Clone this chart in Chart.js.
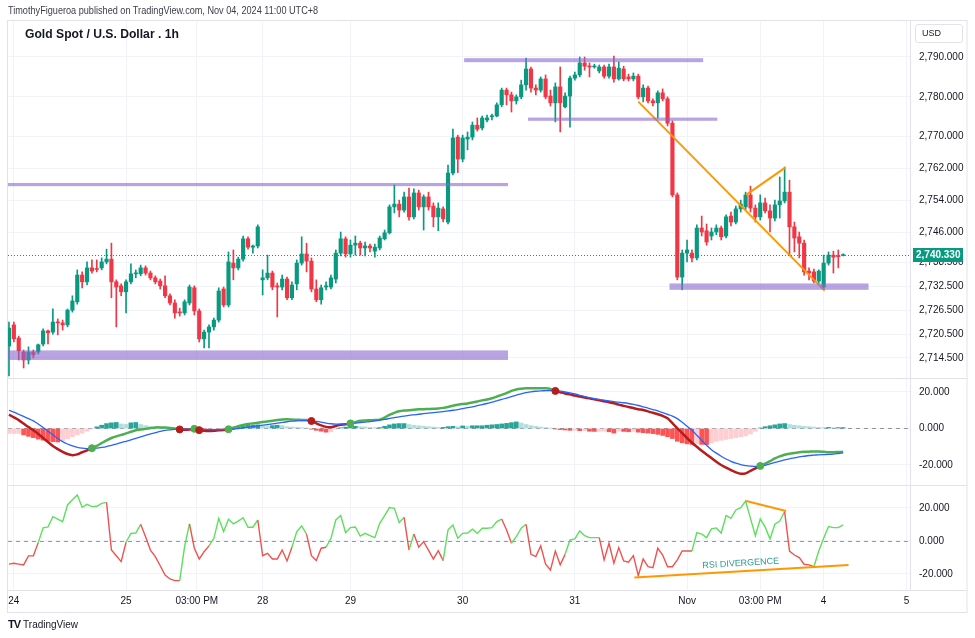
<!DOCTYPE html>
<html>
<head>
<meta charset="utf-8">
<script src="https://cdn.jsdelivr.net/npm/chart.js@4.4.1/dist/chart.umd.min.js"></script>
<style>
html, body { margin: 0; padding: 0; background: #fff; width: 975px; height: 638px; overflow: hidden; font-family: "Liberation Sans", Arial, sans-serif; }
#wrap { position: relative; width: 975px; height: 638px; }
#chart { position: absolute; left: 0; top: 0; }
#pub { position: absolute; left: 8px; top: 4px; font-size: 11px; color: #3a3e4a; white-space: nowrap; transform: scaleX(0.83); transform-origin: left top; }
#title { position: absolute; left: 25px; top: 26px; font-size: 13.5px; font-weight: bold; color: #131722; white-space: nowrap; transform: scaleX(0.9); transform-origin: left top; }
#usd { position: absolute; left: 915px; top: 24px; width: 48px; height: 19px; border: 1px solid #e0e3eb; border-radius: 3px; box-sizing: border-box; font-size: 9px; line-height: 17px; padding-left: 6px; color: #131722; }
#logo { position: absolute; left: 8px; top: 618px; font-size: 10px; color: #131722; white-space: nowrap; }
#logo b { font-weight: 900; letter-spacing: -1px; margin-right: 3px; font-size: 11px; }
</style>
</head>
<body>
<div id="wrap">
  <canvas id="chart" width="975" height="638"></canvas>
  <div id="pub">TimothyFigueroa published on TradingView.com, Nov 04, 2024 11:00 UTC+8</div>
  <div id="title">Gold Spot / U.S. Dollar . 1h</div>
  <div id="usd">USD</div>
  <div id="logo"><b>TV</b>TradingView</div>
</div>
<script>
// hourly candles, index 0 = first bar on the left
const opens = [
  2717.5, 2722.8, 2719.5, 2716.0, 2714.0, 2716.0, 2716.0, 2718.0, 2721.3, 2721.0,
  2723.5, 2723.3, 2722.8, 2726.5, 2728.6, 2735.3, 2733.6, 2737.1, 2736.9, 2737.1,
  2738.6, 2739.3, 2733.6, 2732.6, 2731.1, 2733.6, 2735.6, 2735.6, 2737.1, 2735.8,
  2734.6, 2733.8, 2732.6, 2730.1, 2728.3, 2726.0, 2725.8, 2728.3, 2732.1, 2726.3,
  2719.3, 2721.0, 2722.3, 2724.0, 2731.8, 2727.8, 2738.3, 2737.1, 2739.3, 2744.4,
  2742.3, 2742.6, 2734.1, 2734.6, 2735.8, 2732.6, 2732.3, 2734.3, 2729.6, 2733.1,
  2738.3, 2740.6, 2738.8, 2731.8, 2729.1, 2732.3, 2732.3, 2734.3, 2740.8, 2744.4,
  2740.6, 2742.8, 2743.3, 2742.1, 2742.6, 2741.3, 2742.1, 2744.4, 2745.9, 2752.4,
  2753.1, 2751.6, 2754.9, 2749.9, 2755.9, 2752.4, 2754.9, 2752.6, 2749.9, 2751.9,
  2748.6, 2760.9, 2769.9, 2764.4, 2769.4, 2769.9, 2772.9, 2772.2, 2774.2, 2775.0,
  2775.2, 2778.0, 2781.7, 2780.5, 2779.0, 2780.0, 2783.0, 2787.0, 2782.2, 2781.7,
  2784.5, 2780.2, 2778.5, 2782.5, 2777.5, 2780.2, 2784.7, 2785.5, 2788.5, 2787.7,
  2787.5, 2786.5, 2787.5, 2785.2, 2787.5, 2784.5, 2787.0, 2785.0, 2784.5, 2785.2,
  2780.0, 2782.2, 2779.0, 2778.5, 2781.0, 2779.5, 2773.4, 2755.4, 2734.8, 2740.8,
  2740.8, 2739.6, 2747.1, 2746.4, 2745.1, 2746.1, 2747.1, 2745.1, 2750.1, 2748.6,
  2751.9, 2752.4, 2755.4, 2752.1, 2749.9, 2753.4, 2751.4, 2749.6, 2752.9, 2753.9,
  2756.1, 2747.4, 2744.9, 2743.3, 2736.3, 2736.1, 2733.8, 2732.3, 2738.3, 2740.3,
  2740.1, 2740.2
];
const highs = [
  2723.5, 2723.5, 2720.0, 2716.5, 2717.3, 2716.5, 2718.0, 2721.8, 2721.5, 2726.8,
  2724.3, 2724.0, 2726.8, 2730.1, 2736.6, 2736.1, 2738.6, 2739.1, 2739.1, 2739.6,
  2741.8, 2743.3, 2734.1, 2733.1, 2734.1, 2738.1, 2736.6, 2737.8, 2737.6, 2736.3,
  2735.1, 2734.3, 2735.1, 2730.6, 2729.1, 2727.0, 2729.1, 2732.8, 2732.6, 2726.8,
  2721.5, 2722.8, 2724.5, 2732.1, 2732.3, 2741.1, 2741.6, 2739.8, 2745.1, 2744.9,
  2742.8, 2747.9, 2736.6, 2740.3, 2736.3, 2733.3, 2735.3, 2734.8, 2733.6, 2739.1,
  2744.9, 2743.3, 2739.6, 2734.1, 2732.8, 2733.6, 2735.3, 2741.6, 2746.1, 2744.9,
  2744.1, 2745.1, 2743.8, 2743.6, 2743.1, 2743.1, 2745.1, 2746.6, 2752.9, 2757.9,
  2754.1, 2756.1, 2757.1, 2756.9, 2756.6, 2755.4, 2756.1, 2753.4, 2753.4, 2752.4,
  2762.9, 2771.9, 2770.4, 2770.4, 2771.2, 2773.7, 2774.7, 2775.2, 2775.4, 2775.7,
  2778.5, 2782.2, 2782.2, 2781.2, 2780.5, 2784.2, 2789.7, 2787.5, 2783.0, 2785.0,
  2785.5, 2781.7, 2783.5, 2787.5, 2781.0, 2785.2, 2786.2, 2790.0, 2790.0, 2788.5,
  2788.2, 2788.0, 2788.0, 2788.2, 2790.2, 2788.7, 2787.7, 2785.7, 2786.0, 2785.7,
  2783.0, 2782.7, 2779.5, 2781.5, 2782.0, 2780.0, 2774.0, 2755.9, 2741.6, 2744.1,
  2741.6, 2747.9, 2750.1, 2748.1, 2747.1, 2747.9, 2747.6, 2750.4, 2751.1, 2752.6,
  2754.1, 2756.1, 2757.6, 2752.9, 2755.4, 2754.6, 2752.9, 2754.1, 2759.9, 2762.4,
  2759.1, 2748.6, 2746.1, 2744.1, 2737.1, 2736.8, 2736.6, 2740.3, 2741.1, 2741.3,
  2741.6, 2740.6
];
const lows = [
  2710.0, 2718.5, 2714.0, 2712.0, 2713.0, 2714.5, 2715.5, 2717.5, 2718.0, 2720.5,
  2720.3, 2721.5, 2722.3, 2726.0, 2728.0, 2732.1, 2732.8, 2735.8, 2736.1, 2736.6,
  2738.1, 2729.6, 2722.3, 2730.1, 2725.8, 2733.1, 2734.6, 2735.1, 2735.3, 2734.1,
  2733.1, 2731.8, 2729.6, 2727.8, 2724.5, 2725.0, 2725.3, 2727.8, 2725.3, 2718.5,
  2717.0, 2717.0, 2721.5, 2723.5, 2727.3, 2727.3, 2734.1, 2736.6, 2738.8, 2741.8,
  2740.8, 2742.1, 2730.3, 2734.1, 2731.6, 2724.8, 2731.6, 2729.1, 2729.1, 2731.6,
  2737.8, 2736.1, 2731.1, 2728.6, 2728.0, 2731.6, 2731.8, 2733.3, 2740.1, 2739.8,
  2739.8, 2740.3, 2740.3, 2740.1, 2741.1, 2739.8, 2741.6, 2744.1, 2745.6, 2750.9,
  2749.9, 2751.1, 2749.1, 2749.4, 2751.6, 2746.6, 2751.6, 2747.4, 2746.4, 2748.6,
  2748.1, 2760.4, 2761.0, 2763.7, 2766.7, 2769.2, 2771.4, 2771.7, 2773.7, 2774.2,
  2775.0, 2777.5, 2778.0, 2776.2, 2778.2, 2779.5, 2781.7, 2781.2, 2780.5, 2781.2,
  2779.5, 2777.7, 2773.7, 2771.2, 2777.2, 2772.4, 2784.2, 2785.0, 2786.7, 2785.0,
  2787.2, 2786.0, 2784.7, 2784.7, 2783.7, 2784.2, 2784.0, 2784.0, 2784.0, 2779.5,
  2778.7, 2778.5, 2777.7, 2774.7, 2779.0, 2772.7, 2754.9, 2734.1, 2731.6, 2738.6,
  2738.6, 2739.1, 2745.1, 2742.8, 2744.1, 2745.4, 2744.1, 2744.6, 2747.6, 2748.1,
  2751.1, 2751.6, 2751.1, 2748.6, 2749.1, 2750.9, 2746.1, 2748.9, 2749.6, 2753.4,
  2740.3, 2741.1, 2739.6, 2735.3, 2734.1, 2733.3, 2733.3, 2731.6, 2737.8, 2735.8,
  2737.1, 2740.1
];
const closes = [
  2722.0, 2719.3, 2716.3, 2714.0, 2716.0, 2715.3, 2717.8, 2721.3, 2720.8, 2723.5,
  2723.3, 2722.8, 2726.5, 2728.8, 2735.3, 2733.6, 2737.1, 2736.3, 2736.7, 2738.6,
  2739.3, 2733.6, 2732.3, 2731.1, 2733.6, 2735.6, 2735.8, 2737.1, 2735.8, 2734.6,
  2733.6, 2732.6, 2730.1, 2728.3, 2725.8, 2725.8, 2728.6, 2732.3, 2726.3, 2719.3,
  2721.0, 2722.3, 2724.0, 2731.3, 2727.8, 2738.6, 2737.1, 2739.3, 2744.4, 2742.3,
  2742.6, 2747.4, 2734.6, 2735.8, 2732.3, 2732.3, 2734.3, 2729.6, 2732.8, 2738.3,
  2740.6, 2738.8, 2731.8, 2729.1, 2732.1, 2732.6, 2734.6, 2740.8, 2744.4, 2740.6,
  2742.8, 2743.3, 2742.1, 2742.6, 2742.1, 2742.3, 2744.6, 2745.9, 2752.4, 2753.1,
  2751.6, 2754.9, 2749.9, 2755.9, 2752.4, 2754.9, 2752.4, 2749.9, 2752.1, 2749.4,
  2760.9, 2769.7, 2764.4, 2769.7, 2769.9, 2772.9, 2771.9, 2774.7, 2774.7, 2775.2,
  2778.0, 2781.7, 2780.5, 2779.0, 2780.0, 2783.0, 2787.0, 2782.2, 2781.7, 2784.5,
  2780.0, 2778.5, 2782.5, 2778.5, 2780.2, 2784.7, 2785.5, 2788.5, 2787.7, 2787.5,
  2787.7, 2787.5, 2785.2, 2787.5, 2784.5, 2787.2, 2784.5, 2784.5, 2785.2, 2780.0,
  2782.2, 2779.0, 2778.5, 2781.0, 2779.5, 2773.4, 2755.4, 2734.8, 2740.8, 2741.6,
  2739.6, 2747.1, 2746.1, 2743.6, 2746.1, 2747.1, 2744.9, 2749.9, 2748.6, 2751.9,
  2753.1, 2755.4, 2752.1, 2749.9, 2753.4, 2751.4, 2749.6, 2752.9, 2753.9, 2756.1,
  2747.4, 2744.6, 2743.3, 2736.1, 2735.8, 2733.8, 2736.3, 2738.3, 2740.3, 2739.8,
  2739.9, 2740.33
];

// MACD pane
const macdLine = [
  7.6, 6.1, 4.6, 2.7, 0.8, -1.0, -3.0, -5.2, -7.4, -9.6,
  -11.3, -12.8, -14.0, -14.6, -14.2, -13.0, -12.0, -10.8, -9.5, -8.0,
  -6.5, -5.2, -4.3, -3.5, -2.7, -1.8, -1.0, -0.6, -0.2, 0.2,
  0.6, 0.6, 0.5, 0.3, 0.0, -0.5, -0.7, -0.6, -0.2, -0.9,
  -1.3, -1.4, -1.3, -1.0, -0.8, -0.4, 0.5, 1.2, 2.0, 2.5,
  2.8, 3.2, 3.6, 3.8, 4.2, 4.6, 4.9, 5.0, 4.9, 4.8,
  4.7, 4.6, 4.1, 2.8, 1.7, 0.9, 0.7, 1.4, 2.0, 2.3,
  2.8, 3.5, 4.2, 4.4, 4.5, 4.6, 4.8, 6.0, 7.5, 8.6,
  9.4, 9.8, 10.0, 10.3, 10.5, 10.6, 10.7, 10.8, 11.0, 11.3,
  11.8, 12.5, 13.0, 13.4, 13.7, 14.2, 14.8, 15.4, 15.9, 16.6,
  17.5, 18.4, 19.4, 20.6, 21.4, 21.8, 22.0, 22.1, 22.1, 22.1,
  22.0, 21.6, 20.6, 19.9, 19.2, 18.7, 18.0, 17.5, 17.0, 16.5,
  16.0, 15.4, 14.9, 14.4, 13.8, 13.1, 12.4, 11.8, 11.2, 10.6,
  10.1, 9.4, 8.6, 7.8, 6.9, 5.6, 3.0, 0.2, -2.6, -5.2,
  -7.8, -10.0, -12.2, -14.2, -16.2, -18.2, -20.0, -21.4, -22.8, -24.0,
  -24.8, -24.6, -23.2, -21.9, -20.5, -19.2, -17.9, -16.4, -15.3, -14.4,
  -13.8, -13.4, -13.0, -12.8, -12.7, -12.6, -12.6, -12.8, -13.0, -13.0,
  -12.9, -12.8
];
const signalLine = [
  10.0, 9.0, 7.8, 6.6, 5.4, 4.2, 2.5, 0.6, -1.5, -3.5,
  -5.5, -7.2, -8.5, -9.5, -10.3, -10.8, -11.0, -11.0, -10.8, -10.4,
  -9.9, -9.2, -8.5, -7.8, -7.0, -6.2, -5.4, -4.6, -3.8, -3.0,
  -2.3, -1.6, -1.0, -0.7, -0.5, -0.4, -0.3, -0.3, -0.3, -0.4,
  -0.5, -0.6, -0.6, -0.6, -0.5, -0.5, -0.4, -0.1, 0.3, 0.7,
  1.0, 1.4, 1.8, 2.1, 2.5, 2.9, 3.3, 3.7, 4.0, 4.2,
  4.3, 4.3, 4.2, 3.9, 3.5, 3.0, 2.6, 2.4, 2.4, 2.5,
  2.6, 2.9, 3.2, 3.5, 3.8, 4.2, 4.6, 5.0, 5.5, 6.0,
  6.4, 6.8, 7.2, 7.5, 7.8, 8.1, 8.4, 8.7, 9.0, 9.3,
  9.6, 10.0, 10.4, 10.9, 11.4, 11.9, 12.5, 13.1, 13.7, 14.4,
  15.1, 15.9, 16.7, 17.5, 18.3, 19.0, 19.6, 20.1, 20.4, 20.6,
  20.7, 20.8, 20.7, 20.4, 20.0, 19.5, 18.9, 18.2, 17.5, 16.9,
  16.3, 15.9, 15.5, 15.1, 14.7, 14.4, 14.1, 13.7, 13.2, 12.6,
  11.9, 11.2, 10.4, 9.6, 8.7, 7.8, 6.8, 5.4, 3.4, 1.2,
  -1.0, -3.7, -6.5, -9.2, -11.6, -13.5, -15.2, -16.7, -18.0, -19.0,
  -19.8, -20.3, -20.6, -20.8, -20.7, -20.2, -19.4, -18.6, -17.9, -17.2,
  -16.6, -16.1, -15.6, -15.2, -14.8, -14.6, -14.4, -14.3, -14.2, -14.0,
  -13.7, -13.4
];
const macdHist = [
  -2.7, -2.7, -2.7, -3.5, -4.3, -5.0, -5.8, -6.4, -6.9, -7.2,
  -7.4, -6.6, -5.6, -4.5, -3.5, -2.5, -1.5, -0.3, 0.9, 1.8,
  2.7, 3.1, 3.3, 2.5, 2.2, 3.1, 3.3, 2.2, 1.6, 1.1,
  0.7, 0.4, 0.2, 0.1, -0.2, -0.4, -0.5, -0.6, -0.4, -0.8,
  -0.9, -0.7, -0.5, -0.3, -0.1, 0.3, 0.7, 1.1, 1.5, 1.8,
  1.8, 2.0, 1.4, 1.1, 1.6, 1.8, 1.6, 1.0, 0.8, 0.7,
  0.5, 0.2, -0.4, -1.0, -1.5, -2.0, -1.8, -0.4, 0.4, 0.8,
  1.0, 1.2, 1.0, 0.9, 0.6, 0.5, 0.5, 1.2, 2.0, 2.5,
  2.7, 2.7, 2.2, 1.8, 1.5, 1.3, 1.0, 0.8, 0.6, 0.6,
  1.0, 1.2, 1.0, 1.4, 1.3, 1.5, 1.5, 1.5, 1.8, 2.0,
  2.2, 2.5, 2.8, 3.2, 3.6, 3.0, 2.2, 1.6, 1.2, 0.8,
  0.5, 0.2, -0.3, -0.6, -0.8, -1.0, -1.0, -1.2, -1.2, -1.5,
  -1.6, -1.6, -1.5, -1.8, -2.5, -1.4, -1.6, -1.8, -1.5, -2.0,
  -2.3, -2.5, -2.8, -3.2, -3.8, -4.5, -5.5, -7.0, -7.8, -8.4,
  -8.7, -8.5, -8.7, -8.8, -8.0, -7.0, -6.5, -6.0, -5.5, -5.0,
  -4.5, -4.0, -3.0, -1.5, 0.3, 1.0, 1.5, 2.0, 2.5, 2.7,
  2.2, 1.8, 1.5, 1.2, 1.0, 0.8, 0.6, 0.5, 0.6, 0.5,
  0.5, 0.5
];

// RSI pane (centred on zero) and the stretches where the line is drawn red
const rsiValues = [
  -14, -13.5, -14, -14.5, -9, -9, -1, 8, 8.5, 14.7,
  13.3, 11.7, 21.8, 25, 27.9, 20.4, 22.2, 20.8, 21, 22.8,
  23.4, -5.5, -9, -12.5, -0.8, 4.6, 4.8, 10.1, 2.6, -5.5,
  -9.5, -15, -20.6, -23, -24, -24, -3.4, 10.3, -4.4, -10.9,
  -6.5, -3, 1.6, 13.7, 5.7, 13.1, 10.3, 12, 14.1, 8.3,
  8.3, 12.7, -8.9, -7.5, -10.9, -10.9, -5.5, -12.1, -3.8, 5.7,
  9.1, 4.2, -8.9, -11.9, -4.4, -3.8, 1.6, 12.7, 15.4, 5.1,
  8.1, 8.5, 3, 4.6, 3.2, 2, 10.7, 15.4, 20.2, 19.8,
  11.1, 14.3, -5.5, 4.2, -3.8, -0.4, -5.5, -10.9, -5.9, -11.9,
  6.7, 9.7, 1.6, 4.6, 4.8, 7.1, 4.6, 7.7, 7.7, 8.1,
  11.7, 13.3, 6.7, -1.4, 2.6, 7.7, 10.1, -8.1, -9.5, -3,
  -14.1, -17.6, -6.1, -14.5, -8.1, 0.6, 1.2, 6.1, 3.2, 2,
  2, 2, -11.5, -1.4, -13.5, -4, -12.1, -12.9, -8.9, -21,
  -10.9, -15.6, -16.2, -4.4, -8.5, -15.6, -15.6, -11.5, -6.1, -6.1,
  -6.1, 5.1, 4.2, 2, 7.3, 7.9, 4.8, 15.4, 13.7, 18.8,
  20.2, 24.2, 13.7, 3.2, 13.3, 8.5, 1.2, 10.1, 12.1, 17.8,
  -6.1, -8.5, -10.1, -14.1, -14.5, -15.6, -6.1, 1.6, 8.7, 8.1,
  8.1, 9.7
];
const rsiBearRanges = [[0, 6], [20, 24], [27, 35], [37, 41], [51, 58], [61, 65], [81, 82], [83, 89], [101, 103], [106, 114], [121, 140], [159, 165]];

// axis labels
const priceTicks = [2790, 2780, 2770, 2762, 2754, 2746, 2738.5, 2732.5, 2726.5, 2720.5, 2714.5];
const oscTicks = [20, 0, -20];
const timeTickIdx = [1, 24, 38.5, 52, 70, 93, 116, 139, 154, 167, 184];
const timeLabels = ['24', '25', '03:00 PM', '28', '29', '30', '31', 'Nov', '03:00 PM', '4', '5'];

// drawings: support / resistance zones (bar index range, price range)
const zoneFrom = [-0.2, 93.3, 106.4, -0.2, 135.4];
const zoneTo = [102.3, 142.3, 145.2, 102.3, 176.2];
const zoneHigh = [2758.4, 2789.7, 2774.8, 2716.4, 2733.2];
const zoneLow = [2757.6, 2788.7, 2774.0, 2714.0, 2731.6];
// trend lines: [start index, end index] and [start value, end value]
const priceTrendIdx = [[129.0, 167.2], [151.1, 159.2]];
const priceTrendVal = [[2778.8, 2731.4], [2755.4, 2762.3]];
const rsiTrendIdx = [[151.1, 159.3], [128.2, 172.1]];
const rsiTrendVal = [[24.2, 18.2], [-22.2, -14.5]];

const UP = '#089981', DOWN = '#f23645';
const fmt = v => v.toLocaleString('en-US', { minimumFractionDigits: 3, maximumFractionDigits: 3 });
const isBear = i => rsiBearRanges.some(r => i >= r[0] && i < r[1]);

const candleColors = closes.map((c, i) => c >= opens[i] ? UP : DOWN);
const histColors = macdHist.map((v, i) => {
  const prev = i > 0 ? macdHist[i - 1] : v;
  if (v >= 0) return v >= prev ? '#26a69a' : '#b2dfdb';
  return v < prev ? '#ff5252' : '#ffcdd2';
});

// crossover dots between MACD and signal
const crossPts = [], crossColors = [];
for (let i = 1; i < macdLine.length; i++) {
  const d0 = macdLine[i - 1] - signalLine[i - 1], d1 = macdLine[i] - signalLine[i];
  if ((d0 < 0) !== (d1 < 0)) {
    crossPts.push({ x: i, y: macdLine[i] });
    crossColors.push(d1 >= 0 ? '#4caf50' : '#b71c1c');
  }
}

function trendSets(idx, val, axis) {
  return idx.map((r, k) => ({
    type: 'line', yAxisID: axis, order: 0,
    data: [{ x: r[0], y: val[k][0] }, { x: r[1], y: val[k][1] }],
    borderColor: '#ff9800', borderWidth: 2, pointRadius: 0, tension: 0
  }));
}

const overlay = {
  id: 'overlay',
  beforeDatasetsDraw(chart) {
    const { ctx, chartArea: a, scales } = chart;
    ctx.save();
    ctx.setLineDash([4, 4]);
    ctx.strokeStyle = '#9598a1';
    ctx.lineWidth = 1;
    [scales.yMacd, scales.yRsi].forEach(s => {
      const y = Math.round(s.getPixelForValue(0)) + 0.5;
      ctx.beginPath(); ctx.moveTo(a.left, y); ctx.lineTo(a.right, y); ctx.stroke();
    });
    ctx.restore();
  },
  afterDatasetsDraw(chart) {
    const { ctx, chartArea: a, scales } = chart;
    const x = scales.x, y = scales.yPrice;
    ctx.save();
    ctx.beginPath(); ctx.rect(a.left, a.top, a.right - a.left, a.bottom - a.top); ctx.clip();
    ctx.fillStyle = 'rgba(135,103,203,0.6)';
    zoneFrom.forEach((f, k) => {
      const x0 = x.getPixelForValue(f), x1 = x.getPixelForValue(zoneTo[k]);
      const y0 = y.getPixelForValue(zoneHigh[k]), y1 = y.getPixelForValue(zoneLow[k]);
      ctx.fillRect(x0, y0, x1 - x0, Math.max(2, y1 - y0));
    });
    const py = Math.round(y.getPixelForValue(closes[closes.length - 1])) + 0.5;
    ctx.strokeStyle = UP; ctx.lineWidth = 1; ctx.setLineDash([1, 2]);
    ctx.beginPath(); ctx.moveTo(a.left, py); ctx.lineTo(a.right, py); ctx.stroke();
    ctx.restore();
  },
  afterDraw(chart) {
    const { ctx, chartArea: a, scales } = chart;
    ctx.save();
    ctx.strokeStyle = '#e0e3eb'; ctx.lineWidth = 1;
    const right = scales.yPrice.right + 0.5;
    ctx.strokeRect(a.left - 0.5, a.top + 0.5, right - a.left, scales.x.bottom - a.top);
    [scales.yMacd.top, scales.yRsi.top, a.bottom].forEach(t => {
      const yy = Math.round(t) + 0.5;
      ctx.beginPath(); ctx.moveTo(a.left, yy); ctx.lineTo(right, yy); ctx.stroke();
    });
    ctx.beginPath(); ctx.moveTo(a.right + 0.5, a.top); ctx.lineTo(a.right + 0.5, a.bottom); ctx.stroke();

    // last price tag
    const last = closes[closes.length - 1];
    const py = scales.yPrice.getPixelForValue(last);
    ctx.fillStyle = UP;
    ctx.fillRect(a.right + 3, py - 7, 50, 14);
    ctx.fillStyle = '#fff';
    ctx.font = 'bold 10px "Liberation Sans", Arial, sans-serif';
    ctx.textBaseline = 'middle'; ctx.textAlign = 'left';
    ctx.fillText(fmt(last), a.right + 6, py + 0.5);

    // divergence label
    const lx = scales.x.getPixelForValue(150), ly = scales.yRsi.getPixelForValue(-13.6);
    ctx.translate(lx, ly); ctx.rotate(-3.4 * Math.PI / 180);
    ctx.fillStyle = '#2a9d8f'; ctx.textAlign = 'center';
    ctx.font = '9px "Liberation Sans", Arial, sans-serif';
    ctx.fillText('RSI DIVERGENCE', 0, 0);
    ctx.restore();
  }
};

Chart.defaults.font.family = '"Liberation Sans", Arial, sans-serif';
Chart.defaults.font.size = 10;
Chart.defaults.color = '#131722';

const yAxis = (weight, min, max, ticks, fmtFn) => ({
  type: 'linear', position: 'right', stack: 'panes', stackWeight: weight,
  min: min, max: max,
  afterBuildTicks: s => { s.ticks = ticks.map(v => ({ value: v })); },
  afterFit: s => { s.width = 57; },
  ticks: { padding: 9, autoSkip: false, callback: fmtFn },
  grid: { color: '#f0f3fa', drawTicks: false },
  border: { display: false }
});

const ctx = document.getElementById('chart').getContext('2d');
const chart = new Chart(ctx, {
  type: 'bar',
  data: {
    datasets: [
      {
        label: 'wicks', yAxisID: 'yPrice', order: 3, grouped: false,
        data: lows.map((l, i) => ({ x: i, y: [l, highs[i]] })),
        backgroundColor: candleColors, barThickness: 1, borderWidth: 0
      },
      {
        label: 'bodies', yAxisID: 'yPrice', order: 2, grouped: false,
        data: opens.map((o, i) => ({ x: i, y: [o, closes[i]] })),
        backgroundColor: candleColors, barThickness: 3.5, minBarLength: 1, borderWidth: 0
      },
      ...trendSets(priceTrendIdx, priceTrendVal, 'yPrice'),
      {
        label: 'histogram', yAxisID: 'yMacd', order: 3, grouped: false,
        data: macdHist.map((v, i) => ({ x: i, y: v })),
        backgroundColor: histColors, barThickness: 4, borderWidth: 0
      },
      {
        type: 'line', label: 'signal', yAxisID: 'yMacd', order: 1,
        data: signalLine.map((v, i) => ({ x: i, y: v })),
        borderColor: '#2962ff', borderWidth: 1.3, pointRadius: 0, tension: 0.3
      },
      {
        type: 'line', label: 'macd', yAxisID: 'yMacd', order: 1,
        data: macdLine.map((v, i) => ({ x: i, y: v })),
        borderWidth: 2.5, pointRadius: 0, tension: 0.3, borderColor: '#4caf50',
        segment: {
          borderColor: c => macdLine[c.p0DataIndex] - signalLine[c.p0DataIndex] >= 0 ? '#4caf50' : '#b71c1c'
        }
      },
      {
        type: 'line', label: 'cross', yAxisID: 'yMacd', order: 0, showLine: false,
        data: crossPts, pointRadius: 3.5, pointBackgroundColor: crossColors, pointBorderColor: crossColors
      },
      {
        type: 'line', label: 'rsi', yAxisID: 'yRsi', order: 1,
        data: rsiValues.map((v, i) => ({ x: i, y: v })),
        borderWidth: 1.4, pointRadius: 0, tension: 0, borderColor: '#5ddf5d',
        segment: { borderColor: c => isBear(c.p0DataIndex) ? '#ef5350' : '#5ddf5d' }
      },
      ...trendSets(rsiTrendIdx, rsiTrendVal, 'yRsi')
    ]
  },
  options: {
    responsive: false,
    animation: false,
    devicePixelRatio: 1,
    layout: { padding: { top: 20, bottom: 26, left: 8, right: 8 } },
    plugins: { legend: { display: false }, tooltip: { enabled: false } },
    scales: {
      x: {
        type: 'linear', min: -0.2, max: 184.7, offset: false,
        afterBuildTicks: s => { s.ticks = timeTickIdx.map(v => ({ value: v })); },
        afterFit: s => { s.height = 22; },
        ticks: { autoSkip: false, maxRotation: 0, padding: 5, callback: (v, i) => timeLabels[i] },
        grid: { color: '#f0f3fa', drawTicks: false, offset: false },
        border: { display: false }
      },
      yPrice: yAxis(358, 2709.48, 2799.28, priceTicks, v => fmt(v)),
      yMacd: yAxis(107, -30.96, 27.67, oscTicks, v => fmt(v)),
      yRsi: yAxis(105, -29.7, 33.9, oscTicks, v => fmt(v))
    }
  },
  plugins: [overlay]
});
</script>
</body>
</html>
